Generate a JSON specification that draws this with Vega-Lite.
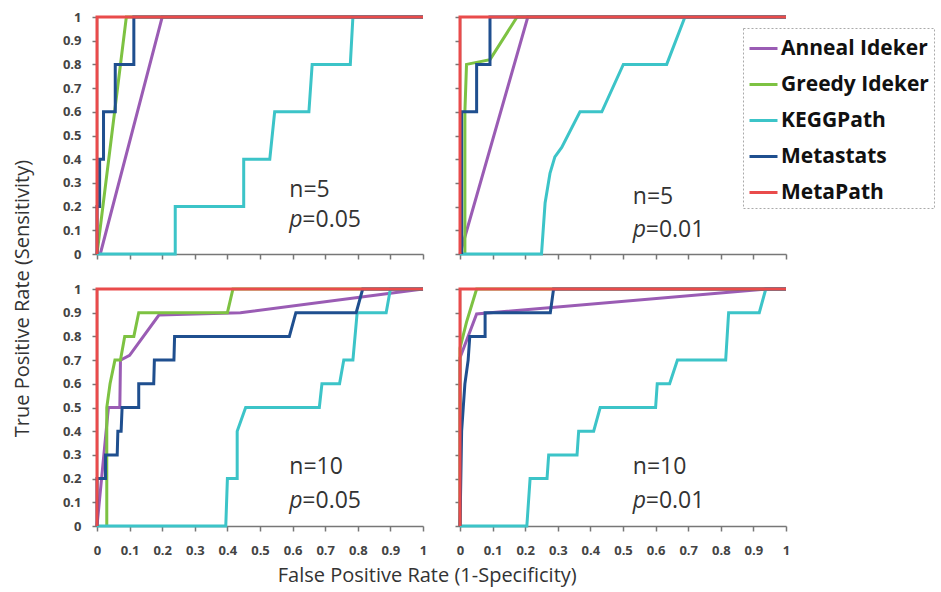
{
  "$schema": "https://vega.github.io/schema/vega-lite/v6.json",
  "padding": {"left": 13, "top": 11, "right": 0, "bottom": 4},
  "config": {
    "view": {"stroke": null},
    "font": "Open Sans",
    "axis": {"grid": false, "labelFont": "Open Sans", "labelFontWeight": "bold", "labelFontSize": 13, "labelColor": "#444", "domainColor": "#777", "tickColor": "#777", "domainWidth": 1.5, "tickWidth": 1.5, "tickSize": 5, "labelPadding": 11, "labelOverlap": false, "labelFlush": false, "title": null},
    "axisX": {"labelPadding": 13},
    "title": {"font": "Open Sans", "fontWeight": "normal", "fontSize": 20, "color": "#333"}
  },
  "datasets": {
    "roc": [
      {"panel":"TL","method":"Anneal Ideker","i":0,"fpr":0.01,"tpr":0},
      {"panel":"TL","method":"Anneal Ideker","i":1,"fpr":0.2,"tpr":1},
      {"panel":"TL","method":"Anneal Ideker","i":2,"fpr":1,"tpr":1},
      {"panel":"TL","method":"Greedy Ideker","i":0,"fpr":0,"tpr":0},
      {"panel":"TL","method":"Greedy Ideker","i":1,"fpr":0.09,"tpr":1},
      {"panel":"TL","method":"Greedy Ideker","i":2,"fpr":1,"tpr":1},
      {"panel":"TL","method":"KEGGPath","i":0,"fpr":0,"tpr":0},
      {"panel":"TL","method":"KEGGPath","i":1,"fpr":0.24,"tpr":0},
      {"panel":"TL","method":"KEGGPath","i":2,"fpr":0.24,"tpr":0.2},
      {"panel":"TL","method":"KEGGPath","i":3,"fpr":0.45,"tpr":0.2},
      {"panel":"TL","method":"KEGGPath","i":4,"fpr":0.45,"tpr":0.4},
      {"panel":"TL","method":"KEGGPath","i":5,"fpr":0.53,"tpr":0.4},
      {"panel":"TL","method":"KEGGPath","i":6,"fpr":0.545,"tpr":0.6},
      {"panel":"TL","method":"KEGGPath","i":7,"fpr":0.65,"tpr":0.6},
      {"panel":"TL","method":"KEGGPath","i":8,"fpr":0.66,"tpr":0.8},
      {"panel":"TL","method":"KEGGPath","i":9,"fpr":0.777,"tpr":0.8},
      {"panel":"TL","method":"KEGGPath","i":10,"fpr":0.785,"tpr":1},
      {"panel":"TL","method":"KEGGPath","i":11,"fpr":1,"tpr":1},
      {"panel":"TL","method":"Metastats","i":0,"fpr":0,"tpr":0},
      {"panel":"TL","method":"Metastats","i":1,"fpr":0,"tpr":0.2},
      {"panel":"TL","method":"Metastats","i":2,"fpr":0.008,"tpr":0.2},
      {"panel":"TL","method":"Metastats","i":3,"fpr":0.008,"tpr":0.4},
      {"panel":"TL","method":"Metastats","i":4,"fpr":0.02,"tpr":0.4},
      {"panel":"TL","method":"Metastats","i":5,"fpr":0.02,"tpr":0.6},
      {"panel":"TL","method":"Metastats","i":6,"fpr":0.056,"tpr":0.6},
      {"panel":"TL","method":"Metastats","i":7,"fpr":0.056,"tpr":0.8},
      {"panel":"TL","method":"Metastats","i":8,"fpr":0.113,"tpr":0.8},
      {"panel":"TL","method":"Metastats","i":9,"fpr":0.113,"tpr":1},
      {"panel":"TL","method":"Metastats","i":10,"fpr":1,"tpr":1},
      {"panel":"TL","method":"MetaPath","i":0,"fpr":0,"tpr":0},
      {"panel":"TL","method":"MetaPath","i":1,"fpr":0,"tpr":1},
      {"panel":"TL","method":"MetaPath","i":2,"fpr":1,"tpr":1},

      {"panel":"TR","method":"Anneal Ideker","i":0,"fpr":0,"tpr":0},
      {"panel":"TR","method":"Anneal Ideker","i":1,"fpr":0.208,"tpr":1},
      {"panel":"TR","method":"Anneal Ideker","i":2,"fpr":1,"tpr":1},
      {"panel":"TR","method":"Greedy Ideker","i":0,"fpr":0.015,"tpr":0},
      {"panel":"TR","method":"Greedy Ideker","i":1,"fpr":0.015,"tpr":0.6},
      {"panel":"TR","method":"Greedy Ideker","i":2,"fpr":0.02,"tpr":0.8},
      {"panel":"TR","method":"Greedy Ideker","i":3,"fpr":0.092,"tpr":0.82},
      {"panel":"TR","method":"Greedy Ideker","i":4,"fpr":0.175,"tpr":1},
      {"panel":"TR","method":"Greedy Ideker","i":5,"fpr":1,"tpr":1},
      {"panel":"TR","method":"KEGGPath","i":0,"fpr":0,"tpr":0},
      {"panel":"TR","method":"KEGGPath","i":1,"fpr":0.25,"tpr":0},
      {"panel":"TR","method":"KEGGPath","i":2,"fpr":0.261,"tpr":0.215},
      {"panel":"TR","method":"KEGGPath","i":3,"fpr":0.276,"tpr":0.34},
      {"panel":"TR","method":"KEGGPath","i":4,"fpr":0.291,"tpr":0.41},
      {"panel":"TR","method":"KEGGPath","i":5,"fpr":0.312,"tpr":0.45},
      {"panel":"TR","method":"KEGGPath","i":6,"fpr":0.368,"tpr":0.6},
      {"panel":"TR","method":"KEGGPath","i":7,"fpr":0.435,"tpr":0.6},
      {"panel":"TR","method":"KEGGPath","i":8,"fpr":0.501,"tpr":0.8},
      {"panel":"TR","method":"KEGGPath","i":9,"fpr":0.634,"tpr":0.8},
      {"panel":"TR","method":"KEGGPath","i":10,"fpr":0.69,"tpr":1},
      {"panel":"TR","method":"KEGGPath","i":11,"fpr":1,"tpr":1},
      {"panel":"TR","method":"Metastats","i":0,"fpr":0.005,"tpr":0},
      {"panel":"TR","method":"Metastats","i":1,"fpr":0.005,"tpr":0.6},
      {"panel":"TR","method":"Metastats","i":2,"fpr":0.051,"tpr":0.6},
      {"panel":"TR","method":"Metastats","i":3,"fpr":0.051,"tpr":0.8},
      {"panel":"TR","method":"Metastats","i":4,"fpr":0.092,"tpr":0.8},
      {"panel":"TR","method":"Metastats","i":5,"fpr":0.092,"tpr":1},
      {"panel":"TR","method":"Metastats","i":6,"fpr":1,"tpr":1},
      {"panel":"TR","method":"MetaPath","i":0,"fpr":0,"tpr":0},
      {"panel":"TR","method":"MetaPath","i":1,"fpr":0,"tpr":1},
      {"panel":"TR","method":"MetaPath","i":2,"fpr":1,"tpr":1},

      {"panel":"BL","method":"Anneal Ideker","i":0,"fpr":0,"tpr":0},
      {"panel":"BL","method":"Anneal Ideker","i":1,"fpr":0.035,"tpr":0.5},
      {"panel":"BL","method":"Anneal Ideker","i":2,"fpr":0.07,"tpr":0.5},
      {"panel":"BL","method":"Anneal Ideker","i":3,"fpr":0.072,"tpr":0.7},
      {"panel":"BL","method":"Anneal Ideker","i":4,"fpr":0.1,"tpr":0.72},
      {"panel":"BL","method":"Anneal Ideker","i":5,"fpr":0.19,"tpr":0.89},
      {"panel":"BL","method":"Anneal Ideker","i":6,"fpr":0.44,"tpr":0.9},
      {"panel":"BL","method":"Anneal Ideker","i":7,"fpr":1,"tpr":1},
      {"panel":"BL","method":"Greedy Ideker","i":0,"fpr":0.03,"tpr":0},
      {"panel":"BL","method":"Greedy Ideker","i":1,"fpr":0.03,"tpr":0.5},
      {"panel":"BL","method":"Greedy Ideker","i":2,"fpr":0.04,"tpr":0.6},
      {"panel":"BL","method":"Greedy Ideker","i":3,"fpr":0.055,"tpr":0.7},
      {"panel":"BL","method":"Greedy Ideker","i":4,"fpr":0.072,"tpr":0.7},
      {"panel":"BL","method":"Greedy Ideker","i":5,"fpr":0.085,"tpr":0.8},
      {"panel":"BL","method":"Greedy Ideker","i":6,"fpr":0.113,"tpr":0.8},
      {"panel":"BL","method":"Greedy Ideker","i":7,"fpr":0.128,"tpr":0.9},
      {"panel":"BL","method":"Greedy Ideker","i":8,"fpr":0.4,"tpr":0.9},
      {"panel":"BL","method":"Greedy Ideker","i":9,"fpr":0.417,"tpr":1},
      {"panel":"BL","method":"Greedy Ideker","i":10,"fpr":1,"tpr":1},
      {"panel":"BL","method":"KEGGPath","i":0,"fpr":0,"tpr":0},
      {"panel":"BL","method":"KEGGPath","i":1,"fpr":0.395,"tpr":0},
      {"panel":"BL","method":"KEGGPath","i":2,"fpr":0.4,"tpr":0.2},
      {"panel":"BL","method":"KEGGPath","i":3,"fpr":0.43,"tpr":0.2},
      {"panel":"BL","method":"KEGGPath","i":4,"fpr":0.43,"tpr":0.4},
      {"panel":"BL","method":"KEGGPath","i":5,"fpr":0.456,"tpr":0.5},
      {"panel":"BL","method":"KEGGPath","i":6,"fpr":0.682,"tpr":0.5},
      {"panel":"BL","method":"KEGGPath","i":7,"fpr":0.69,"tpr":0.6},
      {"panel":"BL","method":"KEGGPath","i":8,"fpr":0.744,"tpr":0.6},
      {"panel":"BL","method":"KEGGPath","i":9,"fpr":0.757,"tpr":0.7},
      {"panel":"BL","method":"KEGGPath","i":10,"fpr":0.785,"tpr":0.7},
      {"panel":"BL","method":"KEGGPath","i":11,"fpr":0.798,"tpr":0.9},
      {"panel":"BL","method":"KEGGPath","i":12,"fpr":0.887,"tpr":0.9},
      {"panel":"BL","method":"KEGGPath","i":13,"fpr":0.9,"tpr":1},
      {"panel":"BL","method":"KEGGPath","i":14,"fpr":1,"tpr":1},
      {"panel":"BL","method":"Metastats","i":0,"fpr":0,"tpr":0},
      {"panel":"BL","method":"Metastats","i":1,"fpr":0,"tpr":0.2},
      {"panel":"BL","method":"Metastats","i":2,"fpr":0.026,"tpr":0.2},
      {"panel":"BL","method":"Metastats","i":3,"fpr":0.026,"tpr":0.3},
      {"panel":"BL","method":"Metastats","i":4,"fpr":0.062,"tpr":0.3},
      {"panel":"BL","method":"Metastats","i":5,"fpr":0.064,"tpr":0.4},
      {"panel":"BL","method":"Metastats","i":6,"fpr":0.074,"tpr":0.4},
      {"panel":"BL","method":"Metastats","i":7,"fpr":0.077,"tpr":0.5},
      {"panel":"BL","method":"Metastats","i":8,"fpr":0.128,"tpr":0.5},
      {"panel":"BL","method":"Metastats","i":9,"fpr":0.128,"tpr":0.6},
      {"panel":"BL","method":"Metastats","i":10,"fpr":0.174,"tpr":0.6},
      {"panel":"BL","method":"Metastats","i":11,"fpr":0.176,"tpr":0.7},
      {"panel":"BL","method":"Metastats","i":12,"fpr":0.236,"tpr":0.7},
      {"panel":"BL","method":"Metastats","i":13,"fpr":0.238,"tpr":0.8},
      {"panel":"BL","method":"Metastats","i":14,"fpr":0.59,"tpr":0.8},
      {"panel":"BL","method":"Metastats","i":15,"fpr":0.61,"tpr":0.9},
      {"panel":"BL","method":"Metastats","i":16,"fpr":0.795,"tpr":0.9},
      {"panel":"BL","method":"Metastats","i":17,"fpr":0.815,"tpr":1},
      {"panel":"BL","method":"Metastats","i":18,"fpr":1,"tpr":1},
      {"panel":"BL","method":"MetaPath","i":0,"fpr":0,"tpr":0},
      {"panel":"BL","method":"MetaPath","i":1,"fpr":0,"tpr":1},
      {"panel":"BL","method":"MetaPath","i":2,"fpr":1,"tpr":1},

      {"panel":"BR","method":"Anneal Ideker","i":0,"fpr":0,"tpr":0},
      {"panel":"BR","method":"Anneal Ideker","i":1,"fpr":0,"tpr":0.71},
      {"panel":"BR","method":"Anneal Ideker","i":2,"fpr":0.051,"tpr":0.895},
      {"panel":"BR","method":"Anneal Ideker","i":3,"fpr":0.94,"tpr":1},
      {"panel":"BR","method":"Anneal Ideker","i":4,"fpr":1,"tpr":1},
      {"panel":"BR","method":"Greedy Ideker","i":0,"fpr":0,"tpr":0},
      {"panel":"BR","method":"Greedy Ideker","i":1,"fpr":0,"tpr":0.75},
      {"panel":"BR","method":"Greedy Ideker","i":2,"fpr":0.02,"tpr":0.86},
      {"panel":"BR","method":"Greedy Ideker","i":3,"fpr":0.051,"tpr":1},
      {"panel":"BR","method":"Greedy Ideker","i":4,"fpr":1,"tpr":1},
      {"panel":"BR","method":"KEGGPath","i":0,"fpr":0,"tpr":0},
      {"panel":"BR","method":"KEGGPath","i":1,"fpr":0.205,"tpr":0},
      {"panel":"BR","method":"KEGGPath","i":2,"fpr":0.215,"tpr":0.2},
      {"panel":"BR","method":"KEGGPath","i":3,"fpr":0.267,"tpr":0.2},
      {"panel":"BR","method":"KEGGPath","i":4,"fpr":0.272,"tpr":0.3},
      {"panel":"BR","method":"KEGGPath","i":5,"fpr":0.359,"tpr":0.3},
      {"panel":"BR","method":"KEGGPath","i":6,"fpr":0.364,"tpr":0.4},
      {"panel":"BR","method":"KEGGPath","i":7,"fpr":0.41,"tpr":0.4},
      {"panel":"BR","method":"KEGGPath","i":8,"fpr":0.43,"tpr":0.5},
      {"panel":"BR","method":"KEGGPath","i":9,"fpr":0.6,"tpr":0.5},
      {"panel":"BR","method":"KEGGPath","i":10,"fpr":0.605,"tpr":0.6},
      {"panel":"BR","method":"KEGGPath","i":11,"fpr":0.643,"tpr":0.6},
      {"panel":"BR","method":"KEGGPath","i":12,"fpr":0.667,"tpr":0.7},
      {"panel":"BR","method":"KEGGPath","i":13,"fpr":0.815,"tpr":0.7},
      {"panel":"BR","method":"KEGGPath","i":14,"fpr":0.824,"tpr":0.9},
      {"panel":"BR","method":"KEGGPath","i":15,"fpr":0.918,"tpr":0.9},
      {"panel":"BR","method":"KEGGPath","i":16,"fpr":0.938,"tpr":1},
      {"panel":"BR","method":"KEGGPath","i":17,"fpr":1,"tpr":1},
      {"panel":"BR","method":"Metastats","i":0,"fpr":0,"tpr":0},
      {"panel":"BR","method":"Metastats","i":1,"fpr":0.005,"tpr":0.4},
      {"panel":"BR","method":"Metastats","i":2,"fpr":0.01,"tpr":0.5},
      {"panel":"BR","method":"Metastats","i":3,"fpr":0.015,"tpr":0.6},
      {"panel":"BR","method":"Metastats","i":4,"fpr":0.025,"tpr":0.7},
      {"panel":"BR","method":"Metastats","i":5,"fpr":0.03,"tpr":0.8},
      {"panel":"BR","method":"Metastats","i":6,"fpr":0.077,"tpr":0.8},
      {"panel":"BR","method":"Metastats","i":7,"fpr":0.077,"tpr":0.9},
      {"panel":"BR","method":"Metastats","i":8,"fpr":0.277,"tpr":0.9},
      {"panel":"BR","method":"Metastats","i":9,"fpr":0.287,"tpr":1},
      {"panel":"BR","method":"Metastats","i":10,"fpr":1,"tpr":1},
      {"panel":"BR","method":"MetaPath","i":0,"fpr":0,"tpr":0},
      {"panel":"BR","method":"MetaPath","i":1,"fpr":0,"tpr":1},
      {"panel":"BR","method":"MetaPath","i":2,"fpr":1,"tpr":1}
    ]
  },
  "title": {"text": "True Positive Rate (Sensitivity)", "orient": "left", "anchor": "middle", "offset": 29},
  "vconcat": [
    {
      "title": {"text": "False Positive Rate (1-Specificity)", "orient": "bottom", "anchor": "middle", "offset": 9},
      "columns": 2,
      "spacing": {"row": 22, "column": 25},
      "concat": [
        {
          "width": 326, "height": 237,
          "layer": [
            {
              "data": {"name": "roc"},
              "transform": [{"filter": "datum.panel == 'TL'"}],
              "mark": {"type": "line", "strokeWidth": 3},
              "encoding": {
                "x": {"field": "fpr", "type": "quantitative", "scale": {"domain": [0, 1], "nice": false}, "axis": {"values": [0,0.1,0.2,0.3,0.4,0.5,0.6,0.7,0.8,0.9,1], "labels": false}},
                "y": {"field": "tpr", "type": "quantitative", "scale": {"domain": [0, 1], "nice": false}, "axis": {"values": [0,0.1,0.2,0.3,0.4,0.5,0.6,0.7,0.8,0.9,1], "format": "~g"}},
                "color": {"field": "method", "type": "nominal", "scale": {"domain": ["Anneal Ideker","Greedy Ideker","KEGGPath","Metastats","MetaPath"], "range": ["#9a5cb4","#7dc242","#3cc4c8","#1f4f8f","#e94b4b"]},
                  "legend": {"title": null, "orient": "none", "legendX": 646, "legendY": 11, "symbolType": "stroke", "symbolSize": 784, "symbolStrokeWidth": 3, "labelFont": "Open Sans", "labelFontWeight": "bold", "labelFontSize": 21, "labelColor": "#111", "labelLimit": 300, "labelOffset": 2, "rowPadding": 10, "padding": 5, "strokeColor": "#aaa", "fillColor": "white", "encode": {"legend": {"update": {"strokeDash": {"value": [2, 2]}}}}}},
                "order": {"field": "i"}
              }
            },
            {"data": {"values": [{}]}, "mark": {"type": "text", "align": "left", "baseline": "middle", "fontSize": 23, "color": "#333"}, "encoding": {"x": {"datum": 0.59, "type": "quantitative", "axis": {"values": [0,0.1,0.2,0.3,0.4,0.5,0.6,0.7,0.8,0.9,1], "labels": false}}, "y": {"datum": 0.27, "type": "quantitative", "axis": {"values": [0,0.1,0.2,0.3,0.4,0.5,0.6,0.7,0.8,0.9,1], "format": "~g"}}, "text": {"value": "n=5"}}},
            {"data": {"values": [{}]}, "mark": {"type": "text", "align": "left", "baseline": "middle", "fontSize": 23, "color": "#333", "fontStyle": "italic"}, "encoding": {"x": {"datum": 0.59, "type": "quantitative", "axis": {"values": [0,0.1,0.2,0.3,0.4,0.5,0.6,0.7,0.8,0.9,1], "labels": false}}, "y": {"datum": 0.145, "type": "quantitative", "axis": {"values": [0,0.1,0.2,0.3,0.4,0.5,0.6,0.7,0.8,0.9,1], "format": "~g"}}, "text": {"value": "p"}}},
            {"data": {"values": [{}]}, "mark": {"type": "text", "align": "left", "baseline": "middle", "fontSize": 23, "color": "#333", "dx": 13}, "encoding": {"x": {"datum": 0.59, "type": "quantitative", "axis": {"values": [0,0.1,0.2,0.3,0.4,0.5,0.6,0.7,0.8,0.9,1], "labels": false}}, "y": {"datum": 0.145, "type": "quantitative", "axis": {"values": [0,0.1,0.2,0.3,0.4,0.5,0.6,0.7,0.8,0.9,1], "format": "~g"}}, "text": {"value": "=0.05"}}}
          ]
        },
        {
          "width": 326, "height": 237,
          "layer": [
            {
              "data": {"name": "roc"},
              "transform": [{"filter": "datum.panel == 'TR'"}],
              "mark": {"type": "line", "strokeWidth": 3},
              "encoding": {
                "x": {"field": "fpr", "type": "quantitative", "scale": {"domain": [0, 1], "nice": false}, "axis": {"values": [0,0.1,0.2,0.3,0.4,0.5,0.6,0.7,0.8,0.9,1], "labels": false}},
                "y": {"field": "tpr", "type": "quantitative", "scale": {"domain": [0, 1], "nice": false}, "axis": {"values": [0,0.1,0.2,0.3,0.4,0.5,0.6,0.7,0.8,0.9,1], "labels": false}},
                "color": {"field": "method", "type": "nominal", "scale": {"domain": ["Anneal Ideker","Greedy Ideker","KEGGPath","Metastats","MetaPath"], "range": ["#9a5cb4","#7dc242","#3cc4c8","#1f4f8f","#e94b4b"]}},
                "order": {"field": "i"}
              }
            },
            {"data": {"values": [{}]}, "mark": {"type": "text", "align": "left", "baseline": "middle", "fontSize": 23, "color": "#333"}, "encoding": {"x": {"datum": 0.53, "type": "quantitative", "axis": {"values": [0,0.1,0.2,0.3,0.4,0.5,0.6,0.7,0.8,0.9,1], "labels": false}}, "y": {"datum": 0.24, "type": "quantitative", "axis": {"values": [0,0.1,0.2,0.3,0.4,0.5,0.6,0.7,0.8,0.9,1], "labels": false}}, "text": {"value": "n=5"}}},
            {"data": {"values": [{}]}, "mark": {"type": "text", "align": "left", "baseline": "middle", "fontSize": 23, "color": "#333", "fontStyle": "italic"}, "encoding": {"x": {"datum": 0.53, "type": "quantitative", "axis": {"values": [0,0.1,0.2,0.3,0.4,0.5,0.6,0.7,0.8,0.9,1], "labels": false}}, "y": {"datum": 0.1, "type": "quantitative", "axis": {"values": [0,0.1,0.2,0.3,0.4,0.5,0.6,0.7,0.8,0.9,1], "labels": false}}, "text": {"value": "p"}}},
            {"data": {"values": [{}]}, "mark": {"type": "text", "align": "left", "baseline": "middle", "fontSize": 23, "color": "#333", "dx": 13}, "encoding": {"x": {"datum": 0.53, "type": "quantitative", "axis": {"values": [0,0.1,0.2,0.3,0.4,0.5,0.6,0.7,0.8,0.9,1], "labels": false}}, "y": {"datum": 0.1, "type": "quantitative", "axis": {"values": [0,0.1,0.2,0.3,0.4,0.5,0.6,0.7,0.8,0.9,1], "labels": false}}, "text": {"value": "=0.01"}}}
          ]
        },
        {
          "width": 326, "height": 237,
          "layer": [
            {
              "data": {"name": "roc"},
              "transform": [{"filter": "datum.panel == 'BL'"}],
              "mark": {"type": "line", "strokeWidth": 3},
              "encoding": {
                "x": {"field": "fpr", "type": "quantitative", "scale": {"domain": [0, 1], "nice": false}, "axis": {"values": [0,0.1,0.2,0.3,0.4,0.5,0.6,0.7,0.8,0.9,1], "format": "~g"}},
                "y": {"field": "tpr", "type": "quantitative", "scale": {"domain": [0, 1], "nice": false}, "axis": {"values": [0,0.1,0.2,0.3,0.4,0.5,0.6,0.7,0.8,0.9,1], "format": "~g"}},
                "color": {"field": "method", "type": "nominal", "scale": {"domain": ["Anneal Ideker","Greedy Ideker","KEGGPath","Metastats","MetaPath"], "range": ["#9a5cb4","#7dc242","#3cc4c8","#1f4f8f","#e94b4b"]}},
                "order": {"field": "i"}
              }
            },
            {"data": {"values": [{}]}, "mark": {"type": "text", "align": "left", "baseline": "middle", "fontSize": 23, "color": "#333"}, "encoding": {"x": {"datum": 0.59, "type": "quantitative", "axis": {"values": [0,0.1,0.2,0.3,0.4,0.5,0.6,0.7,0.8,0.9,1], "format": "~g"}}, "y": {"datum": 0.25, "type": "quantitative", "axis": {"values": [0,0.1,0.2,0.3,0.4,0.5,0.6,0.7,0.8,0.9,1], "format": "~g"}}, "text": {"value": "n=10"}}},
            {"data": {"values": [{}]}, "mark": {"type": "text", "align": "left", "baseline": "middle", "fontSize": 23, "color": "#333", "fontStyle": "italic"}, "encoding": {"x": {"datum": 0.59, "type": "quantitative", "axis": {"values": [0,0.1,0.2,0.3,0.4,0.5,0.6,0.7,0.8,0.9,1], "format": "~g"}}, "y": {"datum": 0.105, "type": "quantitative", "axis": {"values": [0,0.1,0.2,0.3,0.4,0.5,0.6,0.7,0.8,0.9,1], "format": "~g"}}, "text": {"value": "p"}}},
            {"data": {"values": [{}]}, "mark": {"type": "text", "align": "left", "baseline": "middle", "fontSize": 23, "color": "#333", "dx": 13}, "encoding": {"x": {"datum": 0.59, "type": "quantitative", "axis": {"values": [0,0.1,0.2,0.3,0.4,0.5,0.6,0.7,0.8,0.9,1], "format": "~g"}}, "y": {"datum": 0.105, "type": "quantitative", "axis": {"values": [0,0.1,0.2,0.3,0.4,0.5,0.6,0.7,0.8,0.9,1], "format": "~g"}}, "text": {"value": "=0.05"}}}
          ]
        },
        {
          "width": 326, "height": 237,
          "layer": [
            {
              "data": {"name": "roc"},
              "transform": [{"filter": "datum.panel == 'BR'"}],
              "mark": {"type": "line", "strokeWidth": 3},
              "encoding": {
                "x": {"field": "fpr", "type": "quantitative", "scale": {"domain": [0, 1], "nice": false}, "axis": {"values": [0,0.1,0.2,0.3,0.4,0.5,0.6,0.7,0.8,0.9,1], "format": "~g"}},
                "y": {"field": "tpr", "type": "quantitative", "scale": {"domain": [0, 1], "nice": false}, "axis": {"values": [0,0.1,0.2,0.3,0.4,0.5,0.6,0.7,0.8,0.9,1], "labels": false}},
                "color": {"field": "method", "type": "nominal", "scale": {"domain": ["Anneal Ideker","Greedy Ideker","KEGGPath","Metastats","MetaPath"], "range": ["#9a5cb4","#7dc242","#3cc4c8","#1f4f8f","#e94b4b"]}},
                "order": {"field": "i"}
              }
            },
            {"data": {"values": [{}]}, "mark": {"type": "text", "align": "left", "baseline": "middle", "fontSize": 23, "color": "#333"}, "encoding": {"x": {"datum": 0.53, "type": "quantitative", "axis": {"values": [0,0.1,0.2,0.3,0.4,0.5,0.6,0.7,0.8,0.9,1], "format": "~g"}}, "y": {"datum": 0.25, "type": "quantitative", "axis": {"values": [0,0.1,0.2,0.3,0.4,0.5,0.6,0.7,0.8,0.9,1], "labels": false}}, "text": {"value": "n=10"}}},
            {"data": {"values": [{}]}, "mark": {"type": "text", "align": "left", "baseline": "middle", "fontSize": 23, "color": "#333", "fontStyle": "italic"}, "encoding": {"x": {"datum": 0.53, "type": "quantitative", "axis": {"values": [0,0.1,0.2,0.3,0.4,0.5,0.6,0.7,0.8,0.9,1], "format": "~g"}}, "y": {"datum": 0.105, "type": "quantitative", "axis": {"values": [0,0.1,0.2,0.3,0.4,0.5,0.6,0.7,0.8,0.9,1], "labels": false}}, "text": {"value": "p"}}},
            {"data": {"values": [{}]}, "mark": {"type": "text", "align": "left", "baseline": "middle", "fontSize": 23, "color": "#333", "dx": 13}, "encoding": {"x": {"datum": 0.53, "type": "quantitative", "axis": {"values": [0,0.1,0.2,0.3,0.4,0.5,0.6,0.7,0.8,0.9,1], "format": "~g"}}, "y": {"datum": 0.105, "type": "quantitative", "axis": {"values": [0,0.1,0.2,0.3,0.4,0.5,0.6,0.7,0.8,0.9,1], "labels": false}}, "text": {"value": "=0.01"}}}
          ]
        }
      ]
    }
  ]
}
